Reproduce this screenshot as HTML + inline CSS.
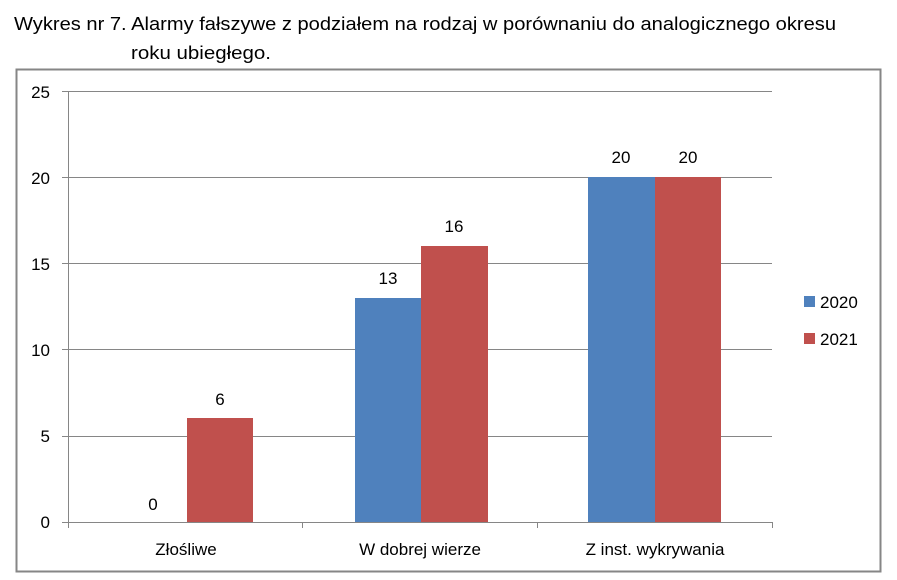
<!DOCTYPE html>
<html><head><meta charset="utf-8"><style>
html,body{margin:0;padding:0;background:#fff;}
svg{display:block;font-family:"Liberation Sans",sans-serif;}
</style></head><body>
<svg width="897" height="580" viewBox="0 0 897 580">
<rect width="897" height="580" fill="#fff"/>
<text x="14" y="30" font-size="18" fill="#000" textLength="822" lengthAdjust="spacingAndGlyphs">Wykres nr 7. Alarmy fałszywe z podziałem na rodzaj w porównaniu do analogicznego okresu</text>
<text x="131" y="59" font-size="18" fill="#000" textLength="140" lengthAdjust="spacingAndGlyphs">roku ubiegłego.</text>
<rect x="16.5" y="69.5" width="864" height="502" fill="#fff" stroke="#868686" stroke-width="2"/>
<g stroke="#868686" stroke-width="1">
<line x1="68" y1="91.5" x2="772" y2="91.5"/>
<line x1="68" y1="177.5" x2="772" y2="177.5"/>
<line x1="68" y1="263.5" x2="772" y2="263.5"/>
<line x1="68" y1="349.5" x2="772" y2="349.5"/>
<line x1="68" y1="436.5" x2="772" y2="436.5"/>
<line x1="62" y1="91.5" x2="68" y2="91.5"/>
<line x1="62" y1="177.5" x2="68" y2="177.5"/>
<line x1="62" y1="263.5" x2="68" y2="263.5"/>
<line x1="62" y1="349.5" x2="68" y2="349.5"/>
<line x1="62" y1="436.5" x2="68" y2="436.5"/>
<line x1="62" y1="522.5" x2="68" y2="522.5"/>
</g>
<rect x="187" y="418" width="66" height="104" fill="#c0504d"/>
<rect x="355" y="298" width="66" height="224" fill="#4f81bd"/>
<rect x="421" y="246" width="67" height="276" fill="#c0504d"/>
<rect x="588" y="177" width="67" height="345" fill="#4f81bd"/>
<rect x="655" y="177" width="66" height="345" fill="#c0504d"/>
<g stroke="#868686" stroke-width="1">
<line x1="68.5" y1="91" x2="68.5" y2="522"/>
<line x1="68" y1="522.5" x2="772" y2="522.5"/>
<line x1="68.5" y1="522" x2="68.5" y2="528"/>
<line x1="302.5" y1="522" x2="302.5" y2="528"/>
<line x1="537.5" y1="522" x2="537.5" y2="528"/>
<line x1="772.5" y1="522" x2="772.5" y2="528"/>
</g>
<g font-size="17" fill="#000" text-anchor="end">
<text x="50" y="98">25</text>
<text x="50" y="184">20</text>
<text x="50" y="270">15</text>
<text x="50" y="356">10</text>
<text x="50" y="442">5</text>
<text x="50" y="528">0</text>
</g>
<g font-size="17" fill="#000" text-anchor="middle">
<text x="153" y="510">0</text>
<text x="220" y="405">6</text>
<text x="388" y="284">13</text>
<text x="454" y="232">16</text>
<text x="621" y="163">20</text>
<text x="688" y="163">20</text>
<text x="186" y="555">Złośliwe</text>
<text x="420" y="555">W dobrej wierze</text>
<text x="655" y="555">Z inst. wykrywania</text>
</g>
<rect x="804" y="296" width="11" height="11" fill="#4f81bd"/>
<rect x="804" y="333" width="11" height="11" fill="#c0504d"/>
<g font-size="17" fill="#000">
<text x="820" y="308">2020</text>
<text x="820" y="345">2021</text>
</g>
</svg>
</body></html>
